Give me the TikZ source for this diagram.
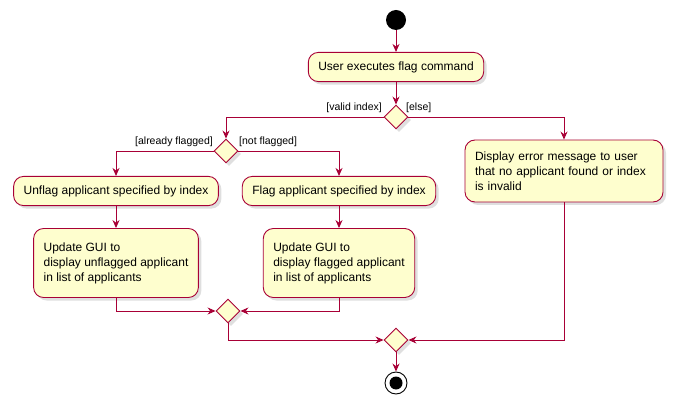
\documentclass[tikz,border=0pt]{standalone}
\usepackage{fontspec}
\setmainfont{Liberation Sans}
\usetikzlibrary{arrows.meta,shapes.geometric,shadows}
\definecolor{actfill}{HTML}{FEFECE}
\definecolor{actline}{HTML}{A80036}
\tikzset{
  act/.style={draw=actline, fill=actfill, rounded corners=10pt, line width=0.9pt,
    align=left, inner xsep=10pt, inner ysep=9pt, font=\fontsize{12}{15}\selectfont,
    drop shadow={shadow xshift=3pt, shadow yshift=-3pt, fill=black!25}},
  dec/.style={draw=actline, fill=actfill, diamond, minimum size=24pt, inner sep=0pt,
    line width=0.9pt, drop shadow={shadow xshift=3pt, shadow yshift=-3pt, fill=black!25}},
  flow/.style={draw=actline, line width=0.9pt, -{Stealth[length=8pt,width=7pt]}},
  guard/.style={font=\fontsize{10.5}{12}\selectfont, inner sep=1pt}
}
\begin{document}
\begin{tikzpicture}[x=1pt,y=-1pt]
  \useasboundingbox (0,0) rectangle (676,411);

  % start and first action
  \fill (396,20) circle (10);
  \coordinate (start) at (396,30);
  \node[act] (exec) at (396,67) {User executes flag command};
  \node[dec] (valid) at (396,117) {};

  % branches
  \node[dec] (flagged) at (226,151) {};
  \node[act, text width=178pt, minimum height=62pt] (error) at (564,171) {Display error message to user\\that no applicant found or index\\is invalid};
  \node[act] (unflag) at (116,191) {Unflag applicant specified by index};
  \node[act] (flag) at (339,191) {Flag applicant specified by index};
  \node[act, minimum height=69pt] (guiun) at (116,263) {Update GUI to\\display unflagged applicant\\in list of applicants};
  \node[act, minimum height=69pt] (guifl) at (339,263) {Update GUI to\\display flagged applicant\\in list of applicants};

  % merges
  \node[dec] (mergein) at (228,311) {};
  \node[dec] (mergeout) at (396,340) {};
  \node[circle, draw, line width=0.9pt, minimum size=22pt, inner sep=0pt] (stop) at (396,383) {};
  \fill (stop) circle (6.5);

  % guards
  \node[guard, anchor=south east] at (383,114) {[valid index]};
  \node[guard, anchor=south west] at (405,114) {[else]};
  \node[guard, anchor=south east] at (214,148) {[already flagged]};
  \node[guard, anchor=south west] at (238,148) {[not flagged]};

  % connectors
  \draw[flow] (start) -- (exec);
  \draw[flow] (exec) -- (valid);
  \draw[flow] (valid.west) -| (flagged.north);
  \draw[flow] (valid.east) -| (error.north);
  \draw[flow] (flagged.west) -| (unflag.north);
  \draw[flow] (flagged.east) -| (flag.north);
  \draw[flow] (unflag) -- (guiun);
  \draw[flow] (flag) -- (guifl);
  \draw[flow] (guiun.south) |- (mergein.west);
  \draw[flow] (guifl.south) |- (mergein.east);
  \draw[flow] (mergein.south) |- (mergeout.west);
  \draw[flow] (error.south) |- (mergeout.east);
  \draw[flow] (mergeout) -- (stop);
\end{tikzpicture}
\end{document}
